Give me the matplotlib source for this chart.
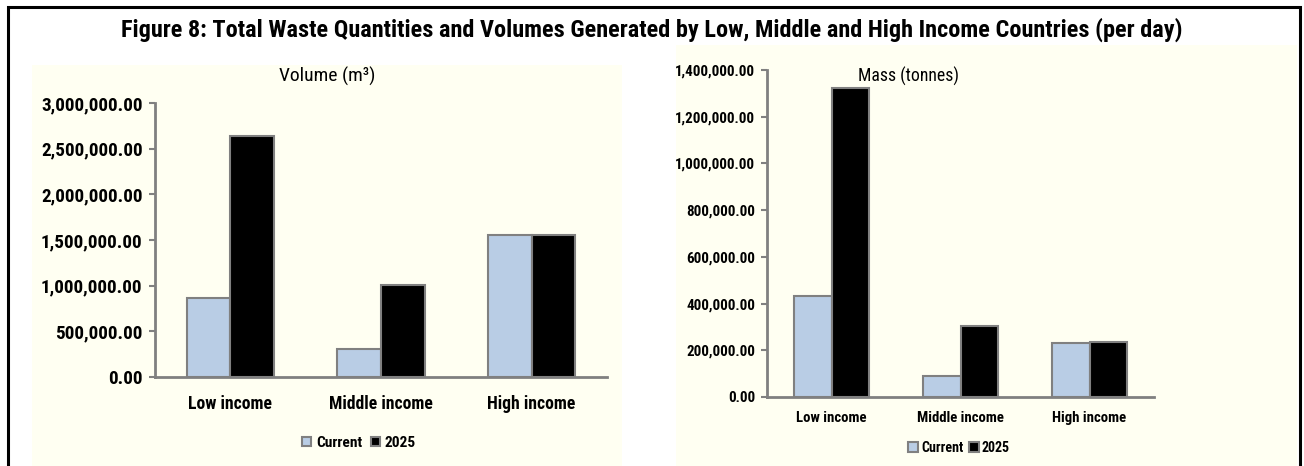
import numpy as np
import matplotlib.pyplot as plt
from matplotlib import font_manager
from matplotlib.patches import Rectangle

categories = ['Low income', 'Middle income', 'High income']
series_names = ['Current', '2025']
vol_current = [862000, 305000, 1555000]
vol_2025 = [2640000, 1005000, 1555000]
mass_current = [432000, 90000, 231000]
mass_2025 = [1323000, 304000, 235000]

# pick a narrow face if one is installed, the original uses a condensed font
installed = {f.name for f in font_manager.fontManager.ttflist}
FONT = 'DejaVu Sans'
for name in ['Liberation Sans Narrow', 'Roboto Condensed', 'Open Sans Condensed']:
    if name in installed:
        FONT = name
        break
STRETCH = 'condensed'

cream = '#fffff2'
light_blue = '#b9cde5'
grey = '#808080'

fig = plt.figure(figsize=(13.04, 4.66), dpi=100)
fig.patch.set_facecolor('white')
renderer = fig.canvas.get_renderer()


def size_for(text, width_px, weight='bold'):
    # font size that gives the text the width it has in the original
    t = fig.text(0, 0, text, fontsize=10, family=FONT, fontweight=weight, fontstretch=STRETCH)
    w = t.get_window_extent(renderer).width
    t.remove()
    return 10 * width_px / w


# panel backgrounds and outer frame
fig.patches.append(Rectangle((32 / 1304, 0), 590 / 1304, 401 / 466, transform=fig.transFigure,
                             facecolor=cream, edgecolor='none', zorder=-5))
fig.patches.append(Rectangle((676 / 1304, 0), 621 / 1304, 421 / 466, transform=fig.transFigure,
                             facecolor=cream, edgecolor='none', zorder=-5))
fig.patches.append(Rectangle((8 / 1304, -0.05), 1292 / 1304, 1.05 - 7 / 466, transform=fig.transFigure,
                             facecolor='none', edgecolor='black', linewidth=2.2, zorder=5))

title = 'Figure 8: Total Waste Quantities and Volumes Generated by Low, Middle and High Income Countries (per day)'
fig.text(0.5, 1 - 30 / 466, title, ha='center', va='center', fontsize=size_for(title, 1064),
         fontweight='bold', family=FONT, fontstretch=STRETCH)


def draw_panel(ax, current, future, ymax, step, tick_size, cat_size, cat_pad, ypad):
    x = np.arange(len(categories))
    w = 0.29
    ax.bar(x - w / 2, current, w, color=light_blue, edgecolor=grey, linewidth=1.5, label=series_names[0])
    ax.bar(x + w / 2, future, w, color='black', edgecolor=grey, linewidth=1.5, label=series_names[1])
    ax.set_facecolor('none')
    ax.set_xlim(-0.5, len(categories) - 0.5)
    ax.set_ylim(0, ymax)
    ticks = np.arange(0, ymax + 1, step)
    ax.set_yticks(ticks)
    ax.set_yticklabels(['{:,.2f}'.format(v) for v in ticks], fontsize=tick_size, fontweight='bold',
                       family=FONT, fontstretch=STRETCH)
    ax.set_xticks(x)
    ax.set_xticklabels(categories, fontsize=cat_size, fontweight='bold', family=FONT, fontstretch=STRETCH)
    for s in ['top', 'right']:
        ax.spines[s].set_visible(False)
    for s in ['left', 'bottom']:
        ax.spines[s].set_color(grey)
        ax.spines[s].set_linewidth(2)
    ax.tick_params(axis='y', direction='out', length=4, width=1.5, color=grey, pad=ypad)
    ax.tick_params(axis='x', length=0, pad=cat_pad)


ax1 = fig.add_axes([155 / 1304, 1 - 377 / 466, 452 / 1304, 274 / 466])
draw_panel(ax1, vol_current, vol_2025, 3000000, 500000,
           size_for('3,000,000.00', 102), size_for('Low income', 84), 13, 5)
fig.text(327 / 1304, 1 - 76 / 466, 'Volume (m³)', ha='center', va='center',
         fontsize=size_for('Volume (m³)', 96, 'normal'), family=FONT, fontstretch=STRETCH)
ax1.legend(loc='center', bbox_to_anchor=(359 / 1304, 1 - 443 / 466), bbox_transform=fig.transFigure,
           ncol=2, frameon=False, handlelength=0.6, handleheight=0.6, handletextpad=0.3,
           columnspacing=0.6, prop={'family': FONT, 'weight': 'bold', 'stretch': STRETCH,
                                    'size': size_for('Current', 46)})

ax2 = fig.add_axes([767 / 1304, 1 - 397 / 466, 387 / 1304, 327 / 466])
draw_panel(ax2, mass_current, mass_2025, 1400000, 200000,
           size_for('1,400,000.00', 80), size_for('Low income', 70), 10, 4.5)
fig.text(908 / 1304, 1 - 76 / 466, 'Mass (tonnes)', ha='center', va='center',
         fontsize=size_for('Mass (tonnes)', 100, 'normal'), family=FONT, fontstretch=STRETCH)
ax2.legend(loc='center', bbox_to_anchor=(959 / 1304, 1 - 448 / 466), bbox_transform=fig.transFigure,
           ncol=2, frameon=False, handlelength=0.7, handleheight=0.7, handletextpad=0.2,
           columnspacing=0.4, prop={'family': FONT, 'weight': 'bold', 'stretch': STRETCH,
                                    'size': size_for('Current', 42)})

fig.savefig('out.png', dpi=100)
